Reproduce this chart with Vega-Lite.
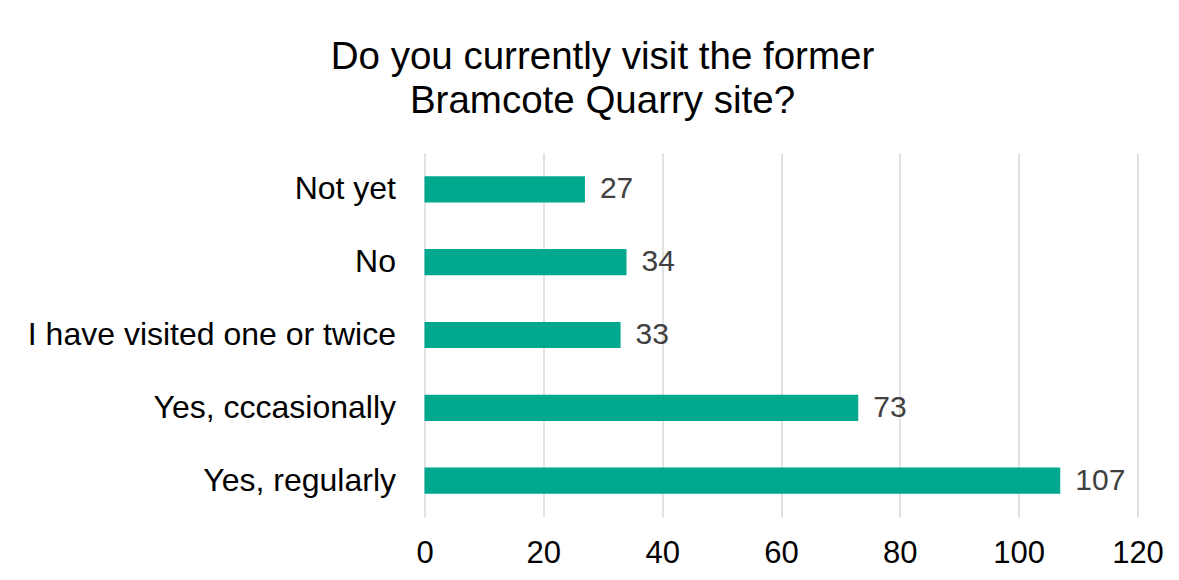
{
  "$schema": "https://vega.github.io/schema/vega-lite/v6.json",
  "width": 713,
  "height": 364,
  "autosize": {"type": "none"},
  "padding": {"left": 424.5, "top": 153, "right": 41.5, "bottom": 63},
  "background": "white",
  "title": {
    "text": ["Do you currently visit the former", "Bramcote Quarry site?"],
    "font": "Liberation Sans",
    "fontSize": 38.5,
    "fontWeight": "normal",
    "color": "#000000",
    "anchor": "middle",
    "dx": -178.5,
    "offset": 32,
    "lineHeight": 44
  },
  "config": {
    "view": {"stroke": null},
    "font": "Liberation Sans"
  },
  "data": {
    "values": [
      {"answer": "Not yet", "count": 27},
      {"answer": "No", "count": 34},
      {"answer": "I have visited one or twice", "count": 33},
      {"answer": "Yes, cccasionally", "count": 73},
      {"answer": "Yes, regularly", "count": 107}
    ]
  },
  "encoding": {
    "y": {
      "field": "answer",
      "type": "nominal",
      "sort": ["Not yet", "No", "I have visited one or twice", "Yes, cccasionally", "Yes, regularly"],
      "scale": {"paddingInner": 0.64, "paddingOuter": 0.32},
      "axis": {
        "title": null,
        "ticks": false,
        "domain": false,
        "grid": false,
        "labelFont": "Liberation Sans",
        "labelFontSize": 32,
        "labelColor": "#000000",
        "labelPadding": 29,
        "labelLimit": 0
      }
    },
    "x": {
      "field": "count",
      "type": "quantitative",
      "scale": {"domain": [0, 120], "nice": false},
      "axis": {
        "title": null,
        "values": [0, 20, 40, 60, 80, 100, 120],
        "ticks": false,
        "domain": false,
        "grid": true,
        "gridColor": "#D9D9D9",
        "gridWidth": 1.5,
        "labelFont": "Liberation Sans",
        "labelFontSize": 31,
        "labelColor": "#000000",
        "labelPadding": 21,
        "labelFlush": false,
        "labelOverlap": false
      }
    }
  },
  "layer": [
    {"mark": {"type": "bar", "color": "#00A88E"}},
    {
      "mark": {"type": "text", "align": "left", "baseline": "middle", "dx": 15, "font": "Liberation Sans", "fontSize": 30, "color": "#404040"},
      "encoding": {"text": {"field": "count", "type": "quantitative"}}
    }
  ]
}
